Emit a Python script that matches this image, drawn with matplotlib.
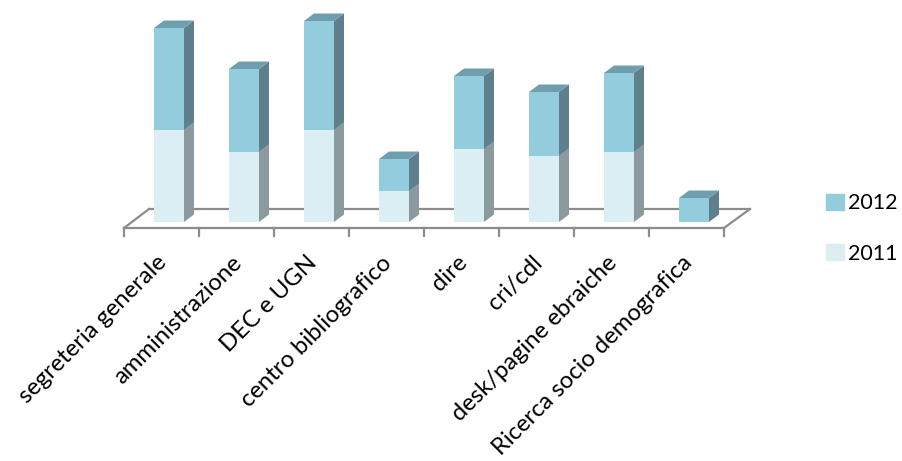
import matplotlib
matplotlib.use("Agg")
import matplotlib.pyplot as plt
from matplotlib.patches import Patch, Polygon

categories = ["segreteria generale", "amministrazione", "DEC e UGN", "centro bibliografico",
              "dire", "cri/cdl", "desk/pagine ebraiche", "Ricerca socio demografica"]
values_2011 = [92, 70, 92, 31, 73, 66, 70, 0]
values_2012 = [102, 83, 109, 32, 73, 64, 79, 24]

FRONT = {"2011": "#dbeef4", "2012": "#93cddd"}
SIDE = {"2011": "#8a9a9e", "2012": "#5d808c"}
TOP = {"2011": "#a9bcc2", "2012": "#6f9fae"}
GRID = "#8c8c8c"

BAR_W = 0.4  # in category units
DX = 10 / 75  # depth offset of the 3d look, x
DY = 7.5  # depth offset, y

plt.rcParams["font.family"] = ["Lato", "DejaVu Sans"]

fig = plt.figure(figsize=(9.03, 4.61), dpi=100)
ax = fig.add_axes([0, 0, 1, 1])
# one x unit is one category, one y unit is one pixel of height
ax.set_xlim(-169 / 75, (903 - 169) / 75)
ax.set_ylim(222 - 461, 222)
ax.axis("off")


def prism(x, bottom, height, key, z):
    left, right = x - BAR_W / 2, x + BAR_W / 2
    top = bottom + height
    ax.bar(x, height, BAR_W, bottom=bottom, color=FRONT[key], zorder=z)
    ax.add_patch(Polygon([(right, bottom), (right + DX, bottom + DY), (right + DX, top + DY), (right, top)],
                         closed=True, color=SIDE[key], lw=0, zorder=z))
    ax.add_patch(Polygon([(left, top), (right, top), (right + DX, top + DY), (left + DX, top + DY)],
                         closed=True, color=TOP[key], lw=0, zorder=z))


# floor of the chart
n = len(categories)
x0, x1 = -0.5 - 0.1, n - 0.5 - 0.1
ax.plot([x0, x1], [-6, -6], color=GRID, lw=1.6, zorder=1)
ax.plot([x0 + 25 / 75, x1 + 26 / 75], [13, 13], color=GRID, lw=1.6, zorder=1)
ax.plot([x0, x0 + 25 / 75], [-6, 13], color=GRID, lw=1.6, zorder=1)
ax.plot([x1, x1 + 26 / 75], [-6, 13], color=GRID, lw=1.6, zorder=1)
for i in range(n + 1):
    ax.plot([x0 + i, x0 + i], [-6, -14], color=GRID, lw=1.6, zorder=1)

for i in range(n):
    if values_2011[i] > 0:
        prism(i, 0, values_2011[i], "2011", 3)
    prism(i, values_2011[i], values_2012[i], "2012", 3)

for i, name in enumerate(categories):
    ax.text(i - 0.17, -30, name, rotation=45, rotation_mode="anchor", ha="right", va="top",
            fontsize=17.2, color="black")

handles = [Patch(color=FRONT["2012"], label="2012"), Patch(color=FRONT["2011"], label="2011")]
ax.legend(handles=handles, loc="center left", bbox_to_anchor=(820 / 903, 1 - 228.5 / 461), frameon=False,
          fontsize=15.5, handlelength=0.8, handleheight=0.75, handletextpad=0.2, labelspacing=1.4,
          borderpad=0.3, borderaxespad=0)

plt.savefig("out.png", dpi=100)
